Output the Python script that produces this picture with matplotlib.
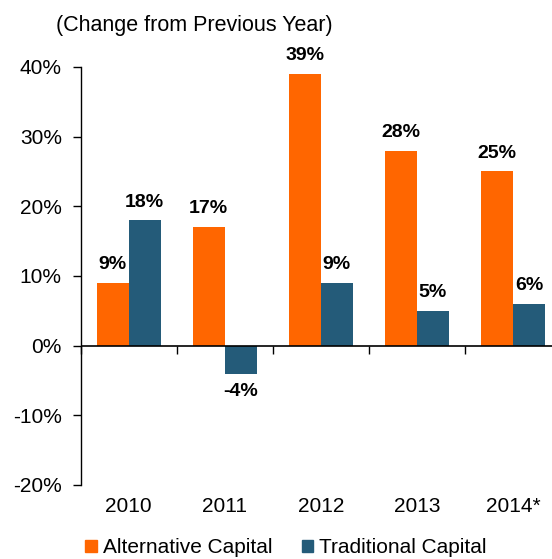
import numpy as np
import matplotlib
matplotlib.use('Agg')
import matplotlib.pyplot as plt
from matplotlib.patches import Patch

plt.rcParams['font.family'] = ['Liberation Sans', 'DejaVu Sans']

years = ['2010', '2011', '2012', '2013', '2014*']
alternative = [9, 17, 39, 28, 25]
traditional = [18, -4, 9, 5, 6]

orange = '#FF6600'
blue = '#245B79'

fig = plt.figure(figsize=(5.52, 5.59), dpi=100)
ax = fig.add_axes([0.146, 0.1324, 1.0 - 0.146, 0.7478])

x = np.arange(len(years))
w = 0.333
b1 = ax.bar(x - w / 2, alternative, w, color=orange)
b2 = ax.bar(x + w / 2, traditional, w, color=blue)

for bars in (b1, b2):
    for rect in bars:
        v = rect.get_height()
        cx = rect.get_x() + rect.get_width() / 2
        if v >= 0:
            ax.annotate(f'{v:g}%', (cx, v), xytext=(0, 7), textcoords='offset points',
                        ha='center', va='bottom', fontsize=14, fontweight='bold')
        else:
            ax.annotate(f'{v:g}%', (cx, v), xytext=(0, -7), textcoords='offset points',
                        ha='center', va='top', fontsize=14, fontweight='bold')

ax.set_ylim(-20, 40)
ax.set_xlim(-0.5, 4.406)
ax.set_yticks(range(-20, 41, 10))
ax.set_yticklabels([f'{t}%' for t in range(-20, 41, 10)])
ax.tick_params(axis='y', direction='out', length=5.5, width=1, pad=8, labelsize=15)

ax.set_xticks(x)
ax.set_xticklabels(years)
ax.tick_params(axis='x', length=0, pad=9, labelsize=15)

for s in ('top', 'right', 'bottom'):
    ax.spines[s].set_visible(False)
ax.spines['left'].set_linewidth(1)

# zero line with category separators
ax.axhline(0, color='black', lw=1.2, zorder=3)
sec = ax.secondary_xaxis(20 / 60)
sec.set_xticks(np.arange(-0.5, len(years), 1))
sec.set_xticklabels([])
sec.spines['bottom'].set_visible(False)
sec.tick_params(axis='x', direction='out', length=6, width=1)

fig.text(0.102, 0.955, '(Change from Previous Year)', fontsize=15.5, ha='left', va='center')

handles = [Patch(color=orange, label='Alternative Capital'),
           Patch(color=blue, label='Traditional Capital')]
fig.legend(handles=handles, loc='center', bbox_to_anchor=(0.518, 0.0197), ncol=2,
           frameon=False, fontsize=15, handlelength=0.55, handleheight=0.55,
           handletextpad=0.3, columnspacing=1.4)

fig.savefig('out.png', dpi=100)
